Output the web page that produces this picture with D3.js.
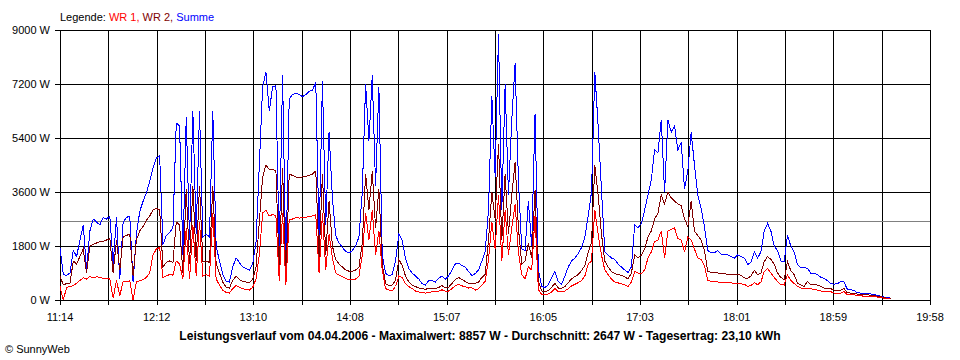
<!DOCTYPE html>
<html><head><meta charset="utf-8">
<script src="https://cdn.jsdelivr.net/npm/d3@7"></script>
<style>
body{margin:0;background:#fff}
svg{display:block}
text{font-family:"Liberation Sans",Arial,sans-serif}
</style>
</head><body>
<svg id="chart" width="960" height="360"></svg>
<script>
// ---------- data ----------
const legendItems = ["WR 1,", "WR 2,", "Summe"];
const yTicks = [0, 1800, 3600, 5400, 7200, 9000];
const xTickLabels = ["11:14","12:12","13:10","14:08","15:07","16:05","17:03","18:01","18:59","19:58"];
const axisStart = "11:14:18";
const axisEnd = "19:58:06";
const sampleStart = "11:14:18";
const sampleStepMin = 2;
const average = 2647;
const titleText = "Leistungsverlauf vom 04.04.2006 - Maximalwert: 8857 W - Durchschnitt: 2647 W - Tagesertrag: 23,10 kWh";
const copyright = "\u00A9 SunnyWeb";

const summe = [
1750,850,820,900,1650,1450,2000,2500,1000,2300,2700,2600,2500,2750,2700,2800,1200,2750,700,2600,2750,2800,600,2180,2950,3290,3570,3960,4400,4730,
4800,1850,2150,2250,2400,5900,5800,1500,6100,2000,6300,2200,6300,2100,2200,2100,6300,1800,1300,850,620,600,1100,1400,1250,1100,1050,1000,1200,1900,4500,7100,
7600,6300,7100,7150,1600,7500,1100,6700,6850,6900,6850,6780,6850,6950,7000,7250,2000,7300,2500,5600,3400,2150,1900,1750,1620,1560,1650,1800,2100,3600,
7200,5300,7500,3800,7100,1500,900,800,850,1300,2200,2000,1400,1050,900,800,700,550,500,650,650,600,720,800,700,800,1000,1200,1230,1150,1100,950,820,
880,1000,1300,1620,3000,6800,4100,8857,3000,7200,3500,6000,7900,4000,1700,1650,3300,1800,6200,1000,450,420,500,750,950,620,520,800,1100,1300,1400,1550,1750,2100,2800,
3600,7600,5800,3700,1600,1500,1400,1350,1200,1100,1000,920,1100,2500,2400,2550,3000,3500,4000,5000,4900,6000,3600,6000,5600,5800,5000,
5250,3700,4300,5600,4500,3500,3050,2450,1650,1570,1580,1640,1530,1510,1500,1450,1400,1500,1450,1400,1180,1250,1600,1400,1600,2300,2550,2300,1800,1650,
1300,1290,2150,1800,1600,1180,1070,1100,1050,900,900,850,760,720,650,540,530,540,620,600,360,340,320,240,230,230,220,200,190,150,130,100,90,60
];
const wr2 = [
800,500,550,560,1300,1200,1450,1700,900,1800,1850,1900,1950,1950,2000,2050,900,2000,1000,2100,2150,2200,800,2000,2300,2450,2650,2800,3000,3050,
3000,1100,1250,1300,1250,2600,2500,900,3700,1200,3800,1300,3800,1300,1300,1250,3800,1200,900,600,420,400,650,800,680,620,600,580,680,1100,2600,4100,
4500,4350,4350,4300,1000,4400,700,4200,4150,4100,4080,4100,4120,4150,4200,4300,1400,4200,1500,3300,1800,1350,1200,1100,1000,960,960,1000,1100,1900,
4200,3000,4300,2400,3700,1200,550,480,500,650,1350,1150,800,600,500,450,400,380,350,400,390,380,420,480,400,430,550,680,750,680,620,550,560,
560,600,750,850,2000,3600,2700,5200,2000,4200,2200,3500,4600,2400,1200,1300,1900,1400,3650,620,300,290,310,420,560,400,390,450,580,700,780,850,980,1150,1600,
1900,4500,3500,2200,1300,1100,950,880,850,820,780,700,900,1500,1400,1500,1700,2100,2300,2700,2900,3500,3200,3600,3400,3300,3200,
3150,2700,2450,3300,2300,2150,2000,1650,950,920,910,900,880,870,860,850,840,840,830,740,720,800,990,840,900,1280,1450,1350,1200,900,
750,680,1280,980,850,570,500,450,620,510,510,500,460,400,400,380,330,320,320,380,240,230,230,200,180,180,180,160,150,120,110,80,60,40
];
const wr1 = [
450,0,420,450,480,560,650,740,700,780,740,770,760,720,730,700,60,650,150,600,620,640,0,620,640,680,750,900,1500,1700,
1750,750,800,850,830,1300,1200,700,2400,700,2500,800,2600,800,850,800,2900,700,500,330,250,230,380,480,420,380,350,330,420,700,1500,2900,
3000,2800,2850,2800,650,2900,500,2700,2700,2750,2730,2740,2760,2780,2800,2850,900,2900,1000,2200,1400,900,830,780,720,680,680,700,800,1500,
2900,2000,3000,1500,2300,1000,380,330,300,450,800,750,550,450,380,300,270,250,230,260,270,270,300,340,300,300,380,480,520,470,450,400,410,
330,380,500,620,1350,2600,1700,3500,1300,3000,1500,2400,3200,1600,850,700,1100,1000,2800,350,180,170,200,270,380,280,290,300,380,470,520,580,650,800,1200,
1300,3000,2200,1500,1000,850,700,600,570,540,500,450,600,950,900,880,1000,1400,1600,1950,2000,2300,1400,2300,2350,2400,2050,
2000,1600,2100,2000,1700,1400,1350,1150,650,620,610,600,590,590,580,570,550,540,540,520,460,480,580,510,600,950,1050,900,750,620,
510,500,840,650,550,460,400,400,400,380,350,330,300,290,290,280,230,230,220,280,180,180,170,160,150,120,120,120,110,100,80,60,50,30
];

// ---------- chart ----------
const svg = d3.select("#chart");
const toMin = s => { const p = s.split(":").map(Number); return p[0]*60 + p[1] + (p[2]||0)/60; };
const t0 = toMin(axisStart), t1 = toMin(axisEnd);
const x = d3.scaleLinear().domain([t0, t1]).range([60, 930]);
const y = d3.scaleLinear().domain([0, 9000]).range([300, 30]);
const px = v => Math.round(v) + 0.5;

const gridTimes = d3.range(19).map(k => t0 + k * (t1 - t0) / 18);
const g = svg.append("g").attr("shape-rendering", "crispEdges");

// horizontal grid lines
g.selectAll("line.h").data(yTicks).join("line")
  .attr("x1", 55).attr("x2", px(x(t1)) + 0.5)
  .attr("y1", d => px(y(d))).attr("y2", d => px(y(d)))
  .attr("stroke", "#000").attr("stroke-width", 1);
// vertical grid lines
g.selectAll("line.v").data(gridTimes).join("line")
  .attr("x1", d => px(x(d))).attr("x2", d => px(x(d)))
  .attr("y1", px(y(9000)) - 0.5).attr("y2", 305)
  .attr("stroke", "#000").attr("stroke-width", 1);
// average line
g.append("line")
  .attr("x1", px(x(t0)) + 0.5).attr("x2", px(x(t1)) - 0.5)
  .attr("y1", px(y(average))).attr("y2", px(y(average)))
  .attr("stroke", "#808080").attr("stroke-width", 1);

// series
const s0 = toMin(sampleStart);
const mk = arr => arr.map((v, i) => [s0 + i * sampleStepMin, v]);
const line = d3.line().x(d => x(d[0])).y(d => y(d[1])).curve(d3.curveLinear);
const series = [
  {vals: summe, color: "#0000ff"},
  {vals: wr2, color: "#800000"},
  {vals: wr1, color: "#ff0000"}
];
svg.append("g").selectAll("path").data(series).join("path")
  .attr("d", d => line(mk(d.vals)))
  .attr("fill", "none").attr("stroke", d => d.color).attr("stroke-width", 1)
  .attr("stroke-linejoin", "miter")
  .attr("shape-rendering", "crispEdges");

// y labels
svg.append("g").selectAll("text").data(yTicks).join("text")
  .attr("x", 50).attr("y", d => y(d) + 4)
  .attr("text-anchor", "end").attr("font-size", "11px").attr("fill", "#000")
  .text(d => d + " W");

// x labels
svg.append("g").selectAll("text").data(xTickLabels).join("text")
  .attr("x", (d, i) => x(gridTimes[i * 2]))
  .attr("y", 320.5)
  .attr("text-anchor", "middle").attr("font-size", "11px").attr("fill", "#000")
  .text(d => d);

// legend
const lg = svg.append("text").attr("x", 60).attr("y", 20.5).attr("font-size", "11px");
lg.append("tspan").attr("fill", "#000").text("Legende: ");
const legendColors = ["#ff0000", "#800000", "#0000ff"];
legendItems.forEach((t, i) => {
  lg.append("tspan").attr("fill", legendColors[i]).text((i ? " " : "") + t);
});

// title
svg.append("text").attr("x", 480).attr("y", 340)
  .attr("text-anchor", "middle").attr("font-size", "12.1px").attr("font-weight", "bold")
  .attr("fill", "#000").text(titleText);

// copyright
svg.append("text").attr("x", 5).attr("y", 353)
  .attr("font-size", "11px").attr("fill", "#000").text(copyright);
</script>
</body></html>
